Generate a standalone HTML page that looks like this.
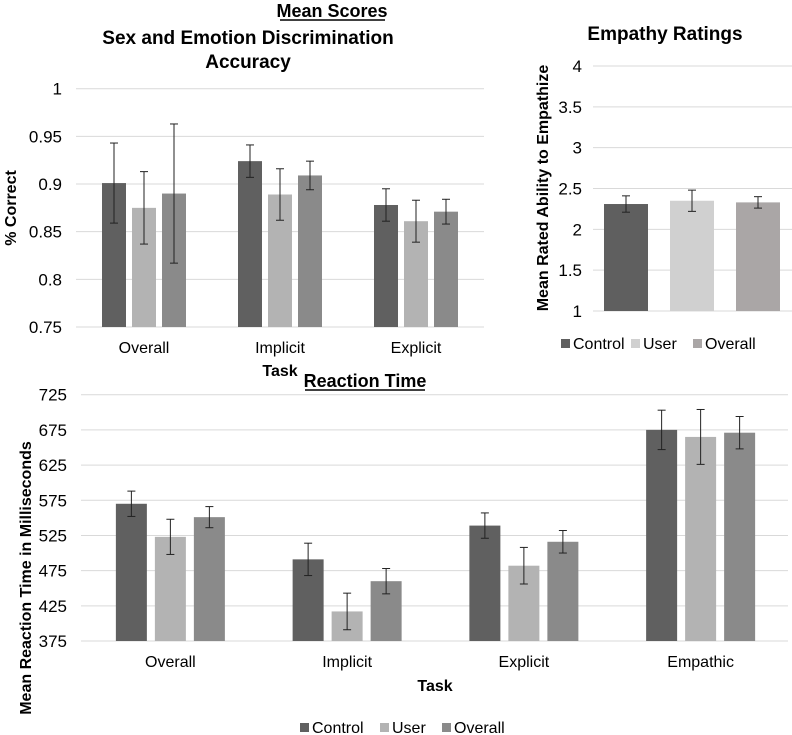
<!DOCTYPE html>
<html><head><meta charset="utf-8"><style>
body{margin:0;background:#fff;}
svg{display:block;font-family:"Liberation Sans",Arial,sans-serif;}
</style></head><body>
<svg id="svg" width="792" height="735" viewBox="0 0 792 735">
<text x="332" y="17" font-size="18" font-weight="bold" text-anchor="middle">Mean Scores</text>
<line x1="280" y1="20" x2="385" y2="20" stroke="#000" stroke-width="1.5"/>
<text x="248" y="44" font-size="19" font-weight="bold" text-anchor="middle">Sex and Emotion Discrimination</text>
<text x="248" y="68" font-size="19" font-weight="bold" text-anchor="middle">Accuracy</text>
<text transform="translate(16,208) rotate(-90)" font-size="16" font-weight="bold" text-anchor="middle">% Correct</text>
<text x="280" y="376" font-size="16" font-weight="bold" text-anchor="middle">Task</text>
<text x="665" y="40" font-size="19" font-weight="bold" text-anchor="middle">Empathy Ratings</text>
<text transform="translate(548,188) rotate(-90)" font-size="16" font-weight="bold" text-anchor="middle">Mean  Rated Ability to Empathize</text>
<text x="365" y="387" font-size="18" font-weight="bold" text-anchor="middle">Reaction Time</text>
<line x1="305" y1="390" x2="425" y2="390" stroke="#000" stroke-width="1.5"/>
<text transform="translate(31,578) rotate(-90)" font-size="16" font-weight="bold" text-anchor="middle">Mean Reaction Time in Milliseconds</text>
<text x="435" y="691" font-size="16" font-weight="bold" text-anchor="middle">Task</text>
<g id="g1"></g><g id="g2"></g><g id="g3"></g>
</svg>
<script>
const accCats=["Overall","Implicit","Explicit"];
const accControl=[0.901,0.924,0.878];
const accUser=[0.875,0.889,0.861];
const accOverall=[0.890,0.909,0.871];
const accControlErr=[0.042,0.017,0.017];
const accUserErr=[0.038,0.027,0.022];
const accOverallErr=[0.073,0.015,0.013];
const accTicks=[0.75,0.8,0.85,0.9,0.95,1];
const accTickLabels=["0.75","0.8","0.85","0.9","0.95","1"];

const empCats=["Control","User","Overall"];
const empValues=[2.31,2.35,2.33];
const empErr=[0.10,0.13,0.07];
const empTicks=[1,1.5,2,2.5,3,3.5,4];
const empTickLabels=["1","1.5","2","2.5","3","3.5","4"];

const rtCats=["Overall","Implicit","Explicit","Empathic"];
const rtControl=[570,491,539,675];
const rtUser=[523,417,482,665];
const rtOverall=[551,460,516,671];
const rtControlErr=[18,23,18,28];
const rtUserErr=[25,26,26,39];
const rtOverallErr=[15,18,16,23];
const rtTicks=[375,425,475,525,575,625,675,725];
const rtTickLabels=["375","425","475","525","575","625","675","725"];

const NS="http://www.w3.org/2000/svg";
function mk(p,t,a){const e=document.createElementNS(NS,t);for(const k in a)e.setAttribute(k,a[k]);p.appendChild(e);return e;}
function txt(p,x,y,s,size,anchor){const e=mk(p,"text",{x:x,y:y,"font-size":size,"text-anchor":anchor,fill:"#000"});e.textContent=s;return e;}
function errBar(p,x,y1,y2,cap){
  const g=mk(p,"g",{stroke:"#222","stroke-width":1});
  
  
  mk(g,"line",{x1:x,y1:y1,x2:x,y2:y2});
  mk(g,"line",{x1:x-cap,y1:y1,x2:x+cap,y2:y1});
  mk(g,"line",{x1:x-cap,y1:y2,x2:x+cap,y2:y2});
}
function grid(p,ticks,labels,yf,x0,x1,lx){
  ticks.forEach((t,i)=>{
    const l=mk(p,"line",{x1:x0,x2:x1,y1:yf(t),y2:yf(t),stroke:"#d9d9d9","stroke-width":1});
    
    
    const tl=txt(p,lx,yf(t)+6,labels[i],17,"end");
    
    
  });
}
function grouped(p,cats,series,errs,colors,yf,x0,x1,bw,gap,labY,cap){
  const n=cats.length,step=(x1-x0)/n;
  cats.forEach((c,i)=>{
    const cx=x0+step*(i+0.5);
    series.forEach((s,j)=>{
      const bx=cx+(j-1)*gap-bw/2;
      const r=mk(p,"rect",{x:bx,y:yf(s[i]),width:bw,height:yf.base-yf(s[i]),fill:colors[j]});
      
      
      errBar(p,bx+bw/2,yf(s[i]+errs[j][i]),yf(s[i]-errs[j][i]),cap);
    });
    const tl=txt(p,cx,labY,c,16,"middle");
    
    
  });
}
function legend(p,x,y,names,colors,gaps){
  let cx=x;
  names.forEach((n,i)=>{
    const g=mk(p,"g",{});
    
    
    mk(g,"rect",{x:cx,y:y-10,width:9,height:9,fill:colors[i]});
    txt(g,cx+12,y,n,16,"start");
    cx+=gaps[i];
  });
}
const g1=document.getElementById("g1");
const y1=v=>327-(v-0.75)/0.25*238.3; y1.base=327;
grid(g1,accTicks,accTickLabels,y1,76,484,62);
grouped(g1,accCats,[accControl,accUser,accOverall],[accControlErr,accUserErr,accOverallErr],["#606060","#b3b3b3","#8a8a8a"],y1,76,484,24,30,353,4);
const g2=document.getElementById("g2");
const y2=v=>311-(v-1)/3*245; y2.base=311;
grid(g2,empTicks,empTickLabels,y2,593,792,582);
const empColors=["#5f5f5f","#d0d0d0","#aaa6a6"];
empCats.forEach((c,i)=>{
  const cx=593+66*(i+0.5);
  const r=mk(g2,"rect",{x:cx-22,y:y2(empValues[i]),width:44,height:311-y2(empValues[i]),fill:empColors[i]});
  
  
  errBar(g2,cx,y2(empValues[i]+empErr[i]),y2(empValues[i]-empErr[i]),4);
});
legend(g2,561,349,["Control","User","Overall"],empColors,[70,62,60]);
const g3=document.getElementById("g3");
const y3=v=>641-(v-375)/350*246.3; y3.base=641;
grid(g3,rtTicks,rtTickLabels,y3,81,788,67);
grouped(g3,rtCats,[rtControl,rtUser,rtOverall],[rtControlErr,rtUserErr,rtOverallErr],["#606060","#b3b3b3","#8a8a8a"],y3,82,789,31,39,667,4);
legend(g3,300,733,["Control","User","Overall"],["#606060","#b3b3b3","#8a8a8a"],[80,62,60]);
</script>
</body></html>
